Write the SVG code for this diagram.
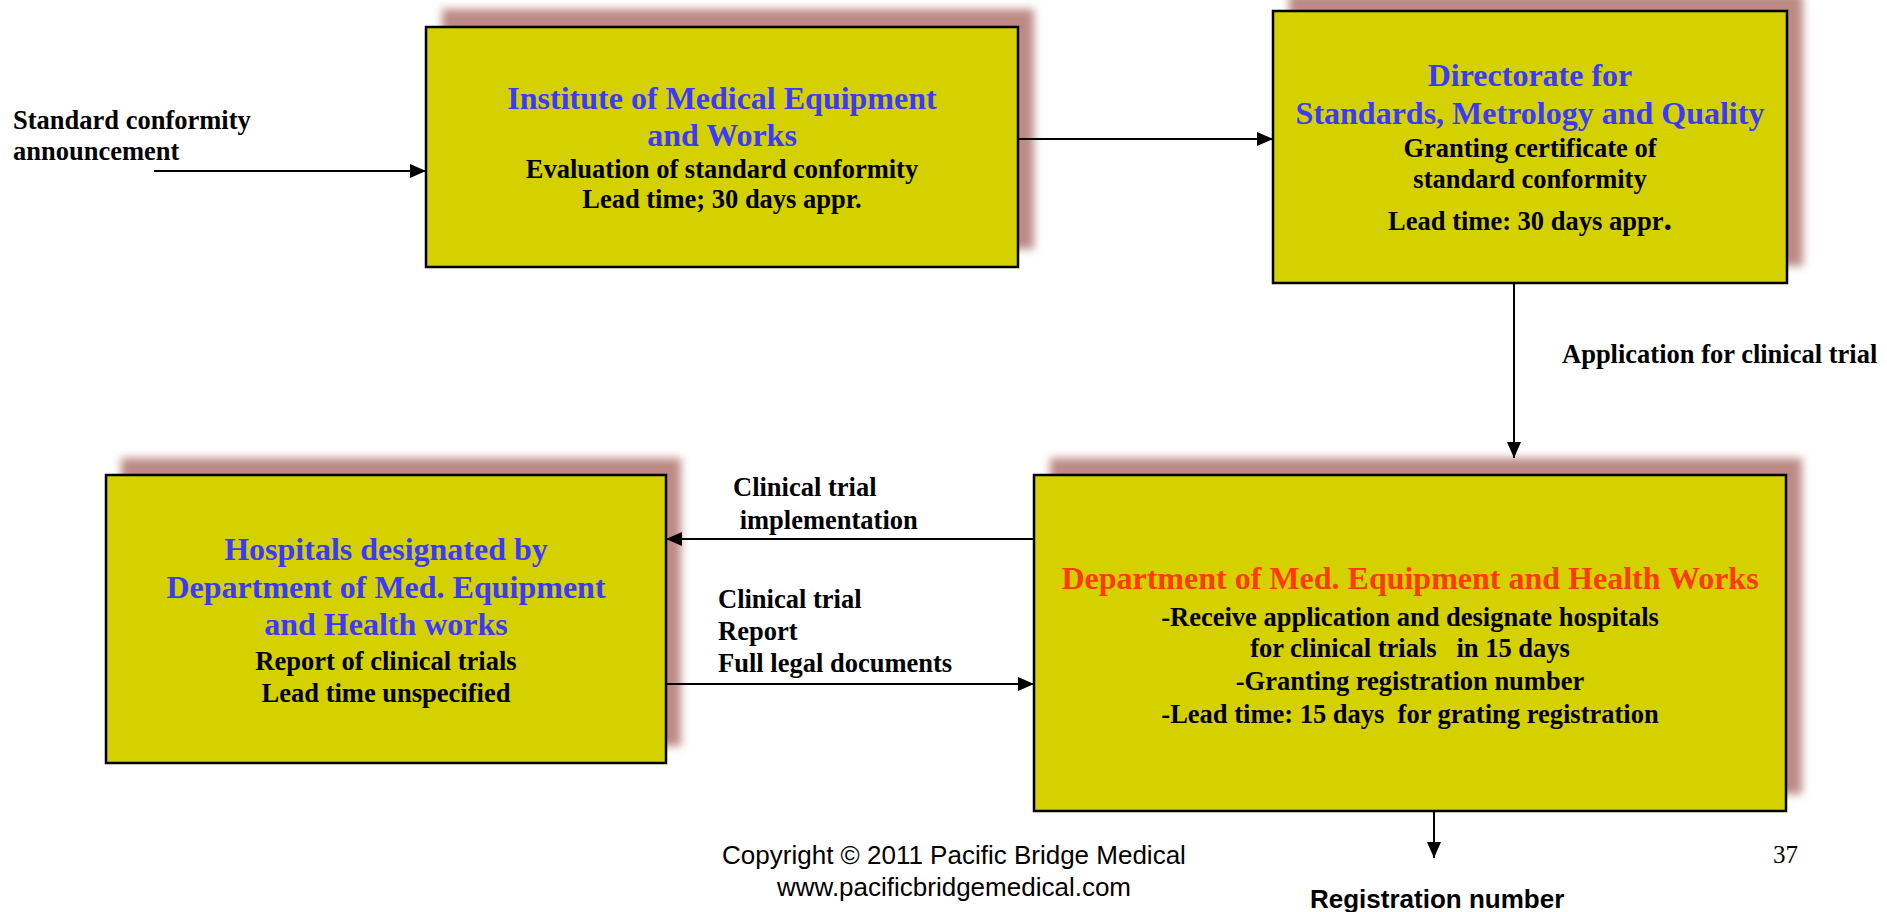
<svg xmlns="http://www.w3.org/2000/svg" width="1887" height="912" viewBox="0 0 1887 912">
<style>
  .box { fill: #d5d100; stroke: #000; stroke-width: 2.5; }
  .shadow { fill: #bd8a85; filter: url(#blur); }
  .title { font-family: "Liberation Serif", "Times New Roman", serif; font-weight: bold; font-size: 32px; fill: #3a3aff; text-anchor: middle; }
  .red { fill: #ff3a0a; }
  .body { font-family: "Liberation Serif", "Times New Roman", serif; font-weight: bold; font-size: 26.5px; fill: #000; text-anchor: middle; white-space: pre; }
  .label { font-family: "Liberation Serif", "Times New Roman", serif; font-weight: bold; font-size: 26.5px; fill: #000; white-space: pre; }
  .conn { stroke: #000; stroke-width: 2; fill: none; marker-end: url(#arrow); }
  .foot { font-family: "Liberation Sans", Arial, sans-serif; font-size: 26px; fill: #000; text-anchor: middle; }
</style>
<defs>
  <filter id="blur" x="-5%" y="-10%" width="110%" height="120%">
    <feGaussianBlur stdDeviation="4"/>
  </filter>
  <marker id="arrow" markerUnits="userSpaceOnUse" markerWidth="16" markerHeight="14" refX="16" refY="7" orient="auto">
    <path d="M0,0 L16,7 L0,14 z" fill="#000"/>
  </marker>
</defs>
<rect width="1887" height="912" fill="#fff"/>

<g id="institute">
  <rect class="shadow" x="442" y="9" width="592" height="240"/>
  <rect class="box" x="426" y="27" width="592" height="240"/>
  <text class="title" x="722" y="109">Institute of Medical Equipment</text>
  <text class="title" x="722" y="146">and Works</text>
  <text class="body" x="722" y="178">Evaluation of standard conformity</text>
  <text class="body" x="722" y="208">Lead time; 30 days appr.</text>
</g>

<g id="directorate">
  <rect class="shadow" x="1289" y="-6" width="514" height="272"/>
  <rect class="box" x="1273" y="11" width="514" height="272"/>
  <text class="title" x="1530" y="86">Directorate for</text>
  <text class="title" x="1530" y="124">Standards, Metrology and Quality</text>
  <text class="body" x="1530" y="157">Granting certificate of</text>
  <text class="body" x="1530" y="188">standard conformity</text>
  <text class="body" x="1530" y="230">Lead time: 30 days appr<tspan font-size="34">.</tspan></text>
</g>

<g id="hospitals">
  <rect class="shadow" x="121" y="458" width="560" height="288"/>
  <rect class="box" x="106" y="475" width="560" height="288"/>
  <text class="title" x="386" y="560">Hospitals designated by</text>
  <text class="title" x="386" y="598">Department of Med. Equipment</text>
  <text class="title" x="386" y="635">and Health works</text>
  <text class="body" x="386" y="670">Report of clinical trials</text>
  <text class="body" x="386" y="702">Lead time unspecified</text>
</g>

<g id="department">
  <rect class="shadow" x="1050" y="458" width="752" height="336"/>
  <rect class="box" x="1034" y="475" width="752" height="336"/>
  <text class="title red" x="1410" y="589">Department of Med. Equipment and Health Works</text>
  <text class="body" x="1410" y="626">-Receive application and designate hospitals</text>
  <text class="body" x="1410" y="657">for clinical trials   in 15 days</text>
  <text class="body" x="1410" y="690">-Granting registration number</text>
  <text class="body" x="1410" y="723">-Lead time: 15 days  for grating registration</text>
</g>

<g id="connectors">
  <line class="conn" x1="154" y1="171" x2="426" y2="171"/>
  <line class="conn" x1="1018" y1="139" x2="1273" y2="139"/>
  <line class="conn" x1="1514" y1="283" x2="1514" y2="458"/>
  <line class="conn" x1="1034" y1="539" x2="666" y2="539"/>
  <line class="conn" x1="666" y1="684" x2="1034" y2="684"/>
  <line class="conn" x1="1434" y1="811" x2="1434" y2="858"/>
</g>

<g id="labels">
  <text class="label" x="13" y="129">Standard conformity</text>
  <text class="label" x="13" y="160">announcement</text>
  <text class="label" x="1562" y="363">Application for clinical trial</text>
  <text class="label" x="733" y="496">Clinical trial</text>
  <text class="label" x="733" y="529"> implementation</text>
  <text class="label" x="718" y="608">Clinical trial</text>
  <text class="label" x="718" y="640">Report</text>
  <text class="label" x="718" y="672">Full legal documents</text>
  <text style="font-family: 'Liberation Sans', Arial, sans-serif; font-weight: bold; font-size: 26px;" x="1310" y="908">Registration number</text>
</g>

<g id="footer">
  <text class="foot" x="954" y="864">Copyright © 2011 Pacific Bridge Medical</text>
  <text class="foot" x="954" y="896">www.pacificbridgemedical.com</text>
  <text style="font-family: 'Liberation Serif', 'Times New Roman', serif; font-size: 25px;" x="1773" y="863">37</text>
</g>
</svg>
